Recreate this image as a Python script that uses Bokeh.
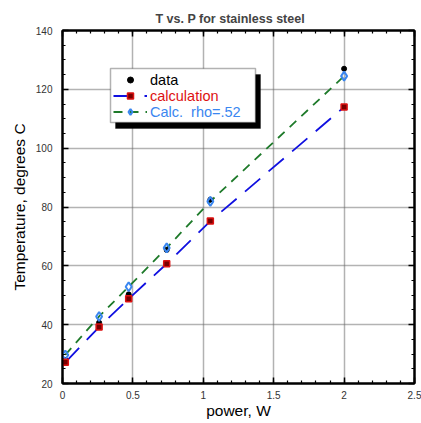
from bokeh.plotting import figure
from bokeh.models import (Legend, LegendItem, LinearAxis, BoxAnnotation,
                          SingleIntervalTicker, Range1d, NumeralTickFormatter,
                          CustomJSTickFormatter)
from bokeh.embed import file_html
from bokeh.resources import INLINE

# ---- data ----
power = [0.02, 0.26, 0.47, 0.74, 1.05, 2.0]
t_data = [28.0, 40.7, 50.3, 65.4, 82.5, 127.0]
t_calc = [27.2, 39.2, 48.8, 60.7, 75.2, 114.0]
t_rho = [29.7, 42.8, 52.9, 66.1, 81.9, 124.5]

label_data = "data"
label_calc = "calculation"
label_rho = "Calc.  rho=.52"

FONT = "Liberation Sans"

p = figure(width=421, height=423, x_range=Range1d(0, 2.5), y_range=Range1d(20, 140),
           output_backend="svg", toolbar_location=None,
           min_border_left=62, min_border_right=7, min_border_top=30, min_border_bottom=40)

p.title.text = "T vs. P for stainless steel"
p.title.text_font = FONT
p.title.text_font_size = "12.5px"
p.title.text_font_style = "bold"
p.title.align = "left"
p.title.offset = 93
p.title.standoff = 10

p.background_fill_color = "white"
p.border_fill_color = "white"
p.outline_line_color = "black"
p.outline_line_width = 2

def style_axis(ax, show_labels=True):
    ax.axis_line_color = "black"
    ax.axis_line_width = 2
    ax.major_tick_in = 6
    ax.major_tick_out = 0
    ax.minor_tick_in = 3
    ax.minor_tick_out = 0
    ax.major_tick_line_color = "black"
    ax.major_tick_line_width = 1.5
    ax.minor_tick_line_color = "black"
    ax.minor_tick_line_width = 1.2
    ax.major_label_text_font = FONT
    ax.major_label_text_color = "#333333"
    ax.axis_label_text_font = FONT
    ax.axis_label_text_font_style = "normal"
    ax.axis_label_text_font_size = "15.5px"
    ax.axis_label_text_color = "black"
    if show_labels:
        ax.major_label_text_font_size = "10px"
    else:
        ax.formatter = CustomJSTickFormatter(code="return ''")
        ax.major_label_standoff = 0
        ax.axis_label_standoff = 0

xa = p.xaxis[0]
ya = p.yaxis[0]
xa.ticker = SingleIntervalTicker(interval=0.5, num_minor_ticks=5)
ya.ticker = SingleIntervalTicker(interval=20, num_minor_ticks=4)
xa.formatter = NumeralTickFormatter(format="0.[0]")
ya.formatter = NumeralTickFormatter(format="0")
style_axis(xa)
style_axis(ya)
xa.axis_label = "power, W"
ya.axis_label = "Temperature, degrees C"
xa.major_label_standoff = 7
ya.major_label_standoff = 10
xa.axis_label_standoff = 0
ya.axis_label_standoff = 5

top = LinearAxis(ticker=SingleIntervalTicker(interval=0.5, num_minor_ticks=5))
right = LinearAxis(ticker=SingleIntervalTicker(interval=20, num_minor_ticks=4))
style_axis(top, False)
style_axis(right, False)
p.add_layout(top, "above")
p.add_layout(right, "right")

for g in (p.xgrid[0], p.ygrid[0]):
    g.grid_line_color = "#666666"
    g.grid_line_width = 1.5
    g.grid_line_dash = "1 1"

# ---- series ----
l_calc = p.line(power, t_calc, line_color="#1010e0", line_width=1.8, line_dash="20 11")
l_rho = p.line(power, t_rho, line_color="#1e7a2a", line_width=1.8, line_dash="9 7")
r_data = p.scatter(power, t_data, marker="circle", size=5, fill_color="black", line_color="black")
r_rho = p.scatter(power, t_rho, marker="diamond", size=9, fill_color=None,
                  line_color="#3a86f0", line_width=2)
r_calc = p.scatter(power, t_calc, marker="square", size=6, fill_color="#7a0000",
                   line_color="#dd1111", line_width=1.5)

# ---- legend box with shadow ----
shadow = BoxAnnotation(left=53, right=198, bottom=255, top=309,
                       left_units="screen", right_units="screen",
                       bottom_units="screen", top_units="screen",
                       fill_color="black", fill_alpha=1.0, line_color="black")
box = BoxAnnotation(left=48, right=193, bottom=261, top=315,
                    left_units="screen", right_units="screen",
                    bottom_units="screen", top_units="screen",
                    fill_color="white", fill_alpha=1.0, line_color="black", line_width=1.5)
p.add_layout(shadow)
p.add_layout(box)

def mk_legend(label, renderers, color, ybot):
    lg = Legend(items=[LegendItem(label=label, renderers=renderers)],
                location=(51, ybot), padding=0, margin=0, spacing=0,
                glyph_width=34, glyph_height=15, label_height=15, label_standoff=3,
                label_text_font=FONT, label_text_font_size="14.5px",
                label_text_color=color, border_line_alpha=0,
                background_fill_alpha=0)
    p.add_layout(lg, "center")

mk_legend(label_data, [r_data], "black", 295.5)
mk_legend(label_calc, [l_calc, r_calc], "#dd1111", 279.5)
mk_legend(label_rho, [l_rho, r_rho], "#3a86f0", 263.5)

open("out.html", "w").write(file_html(p, INLINE))
